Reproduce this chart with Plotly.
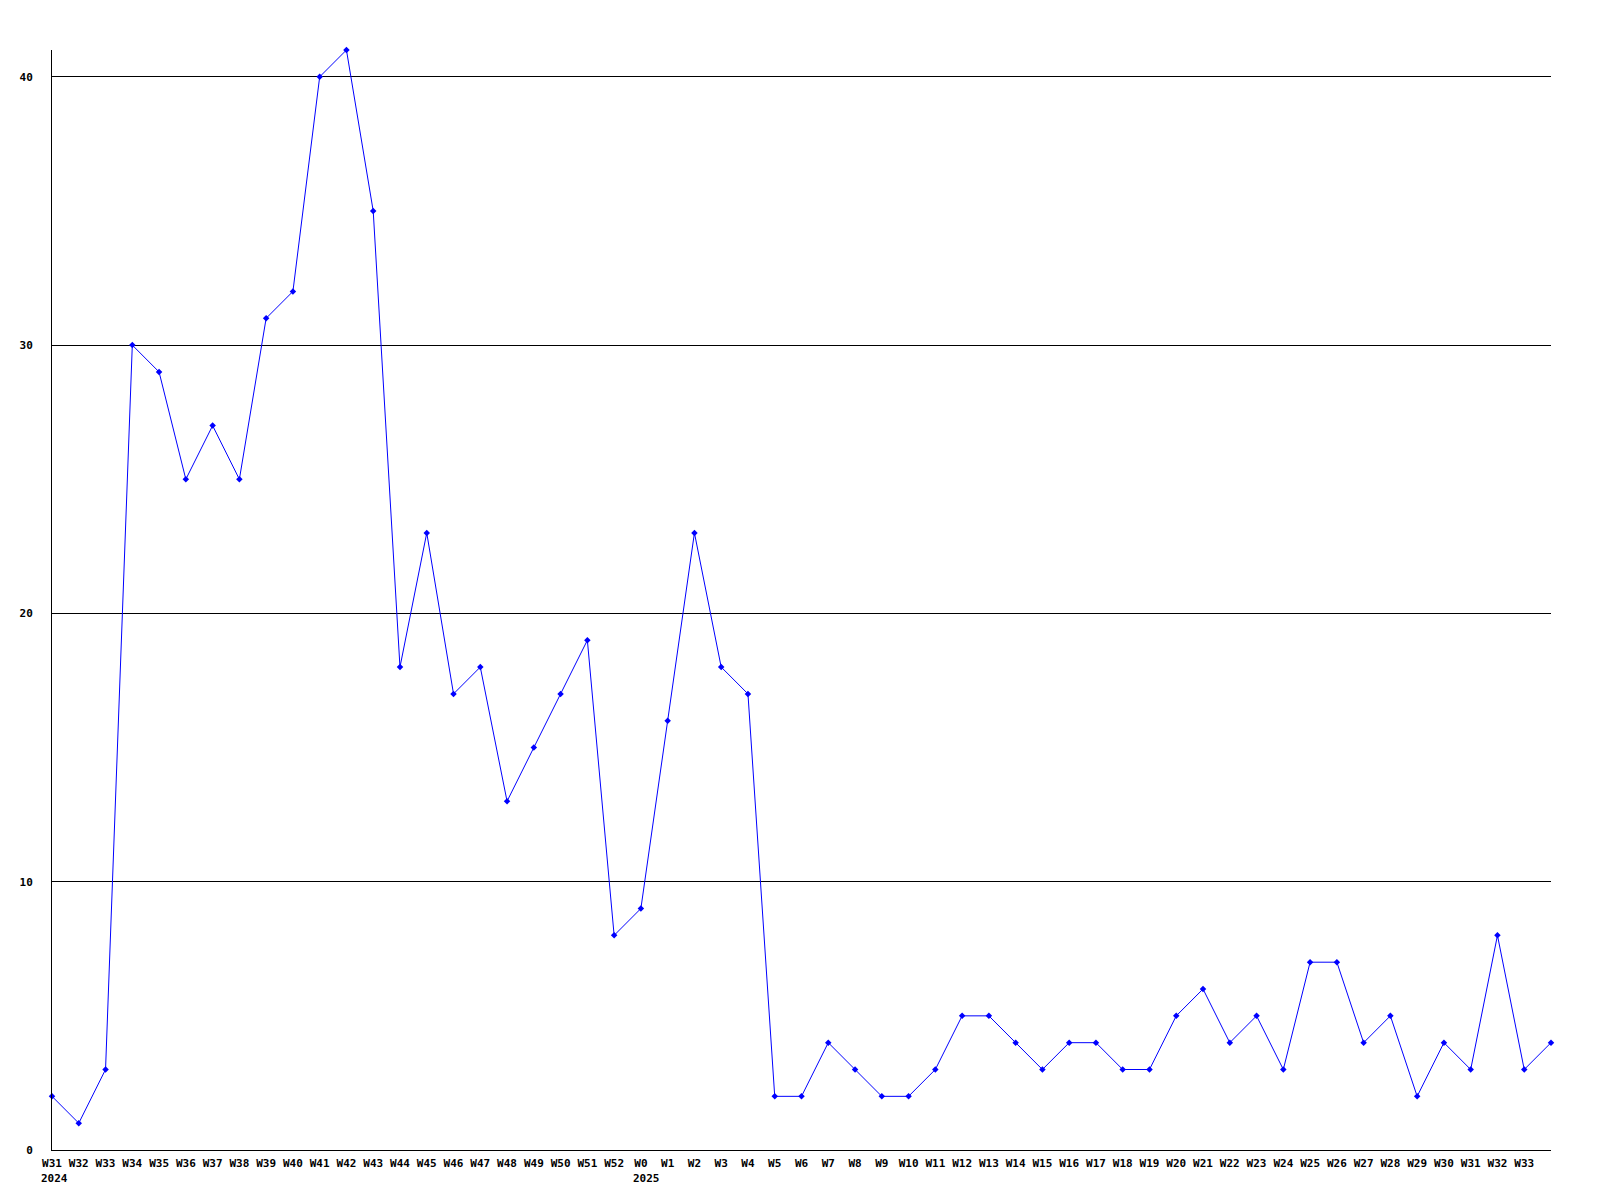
import plotly.graph_objects as go

weeks = ["W31", "W32", "W33", "W34", "W35", "W36", "W37", "W38", "W39", "W40",
         "W41", "W42", "W43", "W44", "W45", "W46", "W47", "W48", "W49", "W50",
         "W51", "W52", "W0", "W1", "W2", "W3", "W4", "W5", "W6", "W7", "W8",
         "W9", "W10", "W11", "W12", "W13", "W14", "W15", "W16", "W17", "W18",
         "W19", "W20", "W21", "W22", "W23", "W24", "W25", "W26", "W27", "W28",
         "W29", "W30", "W31", "W32", "W33", ""]
values = [2, 1, 3, 30, 29, 25, 27, 25, 31, 32,
          40, 41, 35, 18, 23, 17, 18, 13, 15, 17,
          19, 8, 9, 16, 23, 18, 17, 2, 2, 4, 3,
          2, 2, 3, 5, 5, 4, 3, 4, 4, 3,
          3, 5, 6, 4, 5, 3, 7, 7, 4, 5,
          2, 4, 3, 8, 3, 4]
year_labels = {0: "2024", 22: "2025"}
y_ticks = [0, 10, 20, 30, 40]

FONT = "DejaVu Sans Mono"
CHAR_W = 6.6

x_idx = list(range(len(values)))

fig = go.Figure()
fig.add_trace(go.Scatter(
    x=x_idx, y=values, mode="lines+markers",
    line=dict(color="#0000ff", width=1),
    marker=dict(symbol="diamond", size=5, color="#0000ff", line=dict(width=0)),
    hoverinfo="skip", showlegend=False, cliponaxis=False,
))

annotations = []
for i, yr in year_labels.items():
    annotations.append(dict(
        x=i, xref="x", y=0, yref="paper", yanchor="top", xanchor="left",
        text="<b>" + yr + "</b>", showarrow=False,
        xshift=-len(weeks[i]) * CHAR_W / 2 - 3, yshift=-20,
        font=dict(family=FONT, size=11, color="black"),
    ))

# page body has an 8px margin; compensate so the plot lands where the reference has it
fig.update_layout(
    width=1592, height=1192,
    margin=dict(l=42, r=49, t=42, b=50, pad=0),
    paper_bgcolor="white", plot_bgcolor="white",
    font=dict(family=FONT, size=11, color="black"),
    annotations=annotations,
    xaxis=dict(
        range=[0, len(values) - 1],
        tickmode="array", tickvals=x_idx,
        ticktext=["<b>" + w + "</b>" for w in weeks],
        showgrid=False, zeroline=False,
        showline=True, linecolor="black", linewidth=1,
        ticks="", ticklabelstandoff=3,
        tickfont=dict(family=FONT, size=11, color="black"),
        tickangle=0, fixedrange=True,
    ),
    yaxis=dict(
        range=[0, 41],
        tickmode="array", tickvals=y_ticks,
        ticktext=["<b>%d</b>" % v for v in y_ticks],
        showgrid=True, gridcolor="black", gridwidth=1,
        zeroline=False,
        showline=True, linecolor="black", linewidth=1,
        ticks="", ticklabelstandoff=16,
        tickfont=dict(family=FONT, size=11, color="black"),
        fixedrange=True,
    ),
)

fig.write_html("out.html", config={"displayModeBar": False})
